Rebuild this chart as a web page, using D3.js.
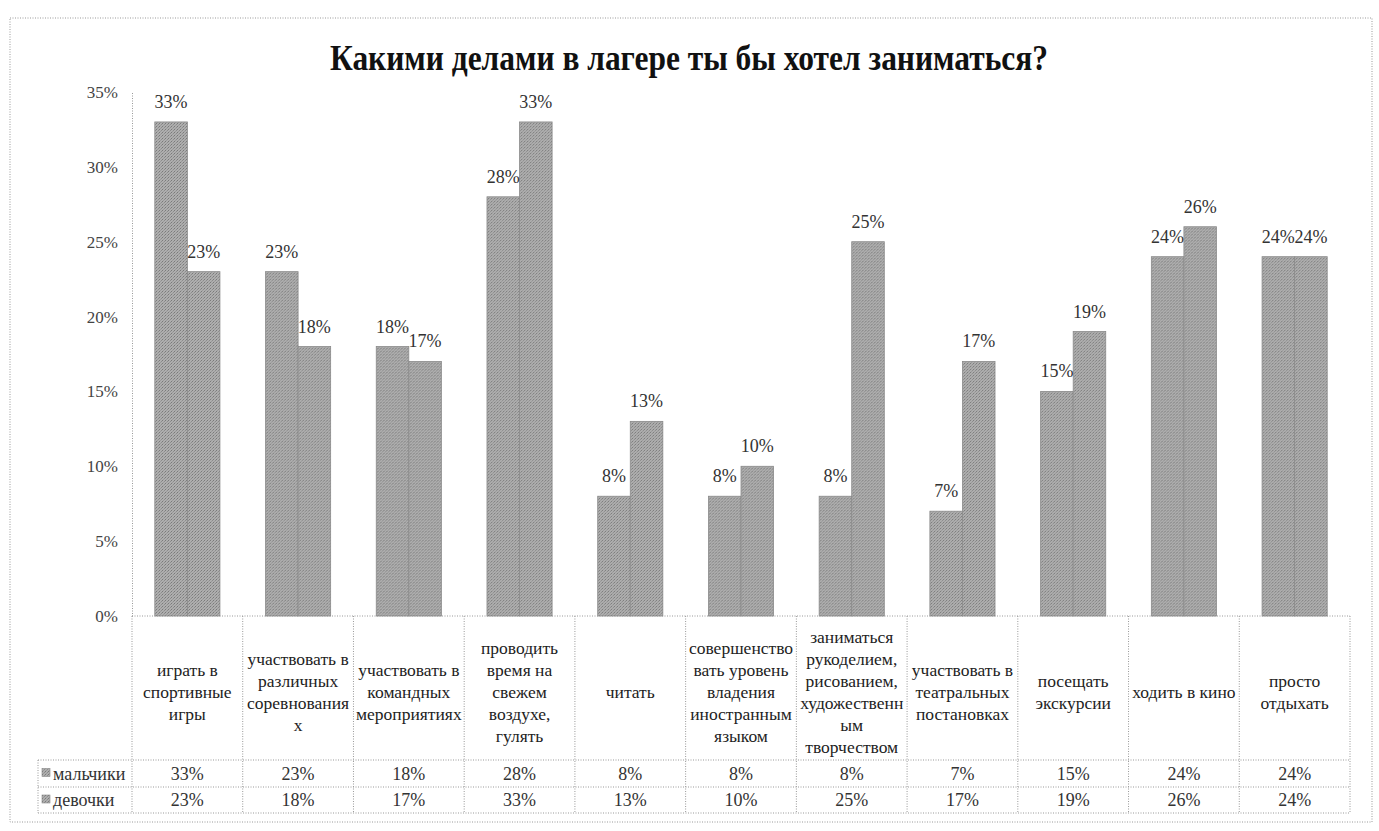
<!DOCTYPE html>
<html>
<head>
<meta charset="utf-8">
<script src="https://cdn.jsdelivr.net/npm/d3@7"></script>
<style>
  body { margin: 0; background: #fff; font-family: "Liberation Serif", serif; }
  svg { display: block; }
</style>
</head>
<body>
<div id="chart"></div>
<script>
// data
const categories = [
  ["играть в", "спортивные", "игры"],
  ["участвовать в", "различных", "соревнования", "х"],
  ["участвовать в", "командных", "мероприятиях"],
  ["проводить", "время на", "свежем", "воздухе,", "гулять"],
  ["читать"],
  ["совершенство", "вать уровень", "владения", "иностранным", "языком"],
  ["заниматься", "рукоделием,", "рисованием,", "художественн", "ым", "творчеством"],
  ["участвовать в", "театральных", "постановках"],
  ["посещать", "экскурсии"],
  ["ходить в кино"],
  ["просто", "отдыхать"]
];
const seriesNames = ["мальчики", "девочки"];
const boys  = [33, 23, 18, 28, 8, 8, 8, 7, 15, 24, 24];
const girls = [23, 18, 17, 33, 13, 10, 25, 17, 19, 26, 24];
const yTicks = [0, 5, 10, 15, 20, 25, 30, 35];
const title = "Какими делами в лагере ты бы хотел заниматься?";

const FONT = "'Liberation Serif', 'Times New Roman', serif";
const width = 1379, height = 831;
const plotLeft = 132, plotRight = 1350, plotTop = 92, base = 616;
const headBottom = 760, row1Bottom = 787, row2Bottom = 813, legendLeft = 38;

const svg = d3.select("#chart").append("svg")
  .attr("width", width).attr("height", height);

// stipple fill like the printed bars
const defs = svg.append("defs");
const pat = defs.append("pattern").attr("id", "stip")
  .attr("width", 3).attr("height", 3).attr("patternUnits", "userSpaceOnUse");
pat.append("rect").attr("width", 3).attr("height", 3).attr("fill", "#aeaeae");
pat.append("rect").attr("x", 0).attr("y", 0).attr("width", 1).attr("height", 1).attr("fill", "#7a7a7a");
pat.append("rect").attr("x", 2).attr("y", 1).attr("width", 1).attr("height", 1).attr("fill", "#8c8c8c");
pat.append("rect").attr("x", 1).attr("y", 2).attr("width", 1).attr("height", 1).attr("fill", "#999");

const dotted = sel => sel.attr("stroke", "#999").attr("stroke-width", 1).attr("stroke-dasharray", "1,1.5").attr("fill", "none");

// outer frame
svg.append("rect").attr("x", 10).attr("y", 18).attr("width", 1362).attr("height", 804).call(dotted);

svg.append("text")
  .attr("x", 689).attr("y", 70)
  .attr("text-anchor", "middle")
  .style("font-family", FONT)
  .attr("font-size", 36).attr("font-weight", "bold")
  .attr("textLength", 718).attr("lengthAdjust", "spacingAndGlyphs")
  .attr("fill", "#111")
  .text(title);

const x = d3.scaleBand().domain(d3.range(categories.length)).range([plotLeft, plotRight]).padding(0);
const xs = d3.scaleBand().domain([0, 1]).range([0, x.bandwidth()]).paddingInner(0).paddingOuter(0.7);
const y = d3.scaleLinear().domain([0, 35]).range([base, plotTop]);

// y axis
const yAxis = svg.append("g")
  .attr("transform", `translate(${plotLeft},0)`)
  .call(d3.axisLeft(y).tickValues(yTicks).tickFormat(d => d + "%").tickSize(0).tickPadding(14));
yAxis.select(".domain").call(dotted);
yAxis.selectAll("text").attr("font-size", 17).style("font-family", FONT).attr("fill", "#444");

// bars
const rows = d3.range(categories.length).map(i => [boys[i], girls[i]]);
const groups = svg.append("g").selectAll("g").data(rows).join("g")
  .attr("transform", (d, i) => `translate(${x(i)},0)`);
groups.selectAll("rect").data(d => d).join("rect")
  .attr("x", (d, j) => xs(j))
  .attr("y", d => y(d))
  .attr("width", xs.bandwidth())
  .attr("height", d => base - y(d))
  .attr("fill", "url(#stip)")
  .attr("stroke", "#8a8a8a").attr("stroke-width", 0.8);
groups.selectAll("text").data(d => d).join("text")
  .attr("x", (d, j) => xs(j) + xs.bandwidth() / 2)
  .attr("y", d => y(d) - 14)
  .attr("text-anchor", "middle")
  .style("font-family", FONT)
  .attr("font-size", 18).attr("fill", "#333")
  .text(d => d + "%");

// x axis line / table top
svg.append("line").attr("x1", plotLeft).attr("x2", plotRight).attr("y1", base).attr("y2", base).call(dotted);

// data table
const tbl = svg.append("g");
x.domain().forEach(i => {
  tbl.append("line").attr("x1", x(i)).attr("x2", x(i)).attr("y1", base).attr("y2", row2Bottom).call(dotted);
});
tbl.append("line").attr("x1", plotRight).attr("x2", plotRight).attr("y1", base).attr("y2", row2Bottom).call(dotted);
tbl.append("line").attr("x1", legendLeft).attr("x2", legendLeft).attr("y1", headBottom).attr("y2", row2Bottom).call(dotted);
[headBottom, row1Bottom, row2Bottom].forEach(yy => {
  tbl.append("line").attr("x1", legendLeft).attr("x2", plotRight).attr("y1", yy).attr("y2", yy).call(dotted);
});

// category labels
const lineH = 22, midY = (base + headBottom) / 2 + 4;
categories.forEach((lines, i) => {
  const t = tbl.append("text")
    .attr("text-anchor", "middle")
    .style("font-family", FONT)
    .attr("font-size", 17.5).attr("fill", "#222");
  lines.forEach((ln, k) => {
    t.append("tspan")
      .attr("x", x(i) + x.bandwidth() / 2)
      .attr("y", midY + (k - (lines.length - 1) / 2) * lineH + 6)
      .text(ln);
  });
});

// value rows
[boys, girls].forEach((vals, r) => {
  const yTop = r === 0 ? headBottom : row1Bottom;
  const yBot = r === 0 ? row1Bottom : row2Bottom;
  const cy = (yTop + yBot) / 2 + 6;
  vals.forEach((v, i) => {
    tbl.append("text").attr("x", x(i) + x.bandwidth() / 2).attr("y", cy)
      .attr("text-anchor", "middle").style("font-family", FONT)
      .attr("font-size", 18).attr("fill", "#333")
      .text(v + "%");
  });
  tbl.append("rect").attr("x", legendLeft + 4).attr("y", cy - 11).attr("width", 8).attr("height", 8)
    .attr("fill", "url(#stip)").attr("stroke", "#888").attr("stroke-width", 0.6);
  tbl.append("text").attr("x", legendLeft + 15).attr("y", cy)
    .style("font-family", FONT)
    .attr("font-size", 18).attr("fill", "#333")
    .text(seriesNames[r]);
});
</script>
</body>
</html>
